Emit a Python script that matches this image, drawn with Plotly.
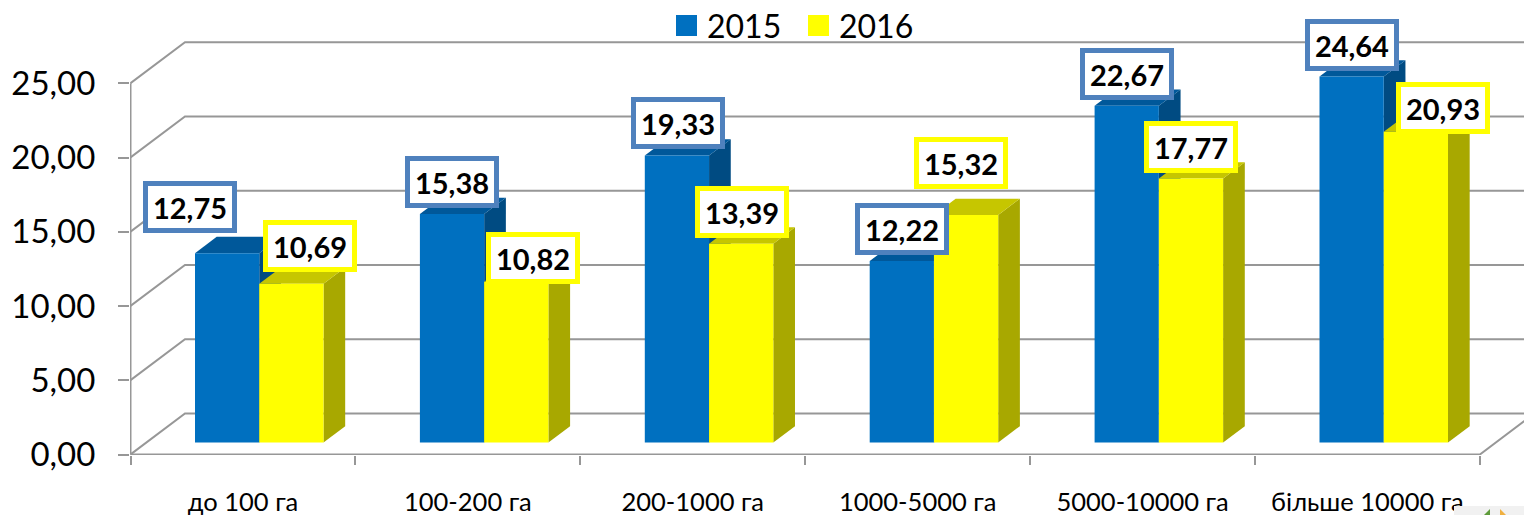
import plotly.graph_objects as go

# ---- data ----
categories = ["до 100 га", "100-200 га", "200-1000 га", "1000-5000 га", "5000-10000 га", "більше 10000 га"]
values_2015 = [12.75, 15.38, 19.33, 12.22, 22.67, 24.64]
values_2016 = [10.69, 10.82, 13.39, 15.32, 17.77, 20.93]
series_names = ["2015", "2016"]
y_ticks = [0, 5, 10, 15, 20, 25]
label_shift_2015 = [(-37, 46), (0, 32), (1, 32), (0, 32), (0, 32), (0, 32)]
label_shift_2016 = [(19, 38), (17, 24), (1, 32), (-5, 52), (0, 32), (27, 24)]

# ---- geometry (pixels of the page -> axis units) ----
W, H = 1524, 515
ML, MB = 130, 60
PX_CAT = 224.9
PX_VAL = 14.85
x0 = -0.5 / PX_CAT
x1 = x0 + (W - ML) / PX_CAT
y0 = -0.5 / PX_VAL
y1 = y0 + (H - MB) / PX_VAL
WALL_DX, WALL_DY = 54.5 / PX_CAT, 41 / PX_VAL
BAR_BASE = 12 / PX_VAL
BAR_W = 64.25 / PX_CAT
BAR_OFF = [64.5 / PX_CAT, (64.5 + 64.25) / PX_CAT]
DEPTH_DX, DEPTH_DY = 21.7 / PX_CAT, 16.3 / PX_VAL

FONT = "Lato, Carlito, Calibri, sans-serif"
GRID = "#979797"
COLORS = ["#0070C0", "#FFFF00"]
TOPS = ["#00589A", "#C6C600"]
SIDES = ["#004B82", "#A8A800"]
BORDERS = ["#4F81BD", "#FFFF00"]

shapes = []


def line(xs, ys):
    path = "M " + " L ".join(f"{a:.4f},{b:.4f}" for a, b in zip(xs, ys))
    shapes.append(dict(type="path", path=path, xref="x", yref="y", layer="below",
                       line=dict(color=GRID, width=2)))


# back wall and left wall grid
for v in y_ticks:
    line([0, WALL_DX, 6 + WALL_DX], [v, v + WALL_DY, v + WALL_DY])
line([0, 0], [0, 25])
line([0, 6, 6 + WALL_DX], [0, 0, WALL_DY])


def face(pts, color):
    path = "M " + " L ".join(f"{a:.4f},{b:.4f}" for a, b in pts) + " Z"
    shapes.append(dict(type="path", path=path, xref="x", yref="y", layer="between",
                       fillcolor=color, line=dict(width=0)))


# depth faces of each bar, drawn between the grid and the front faces
for i in range(len(categories)):
    for s, vals in enumerate([values_2015, values_2016]):
        xl = i + BAR_OFF[s]
        xr = xl + BAR_W
        b = BAR_BASE
        t = BAR_BASE + vals[i]
        face([(xr, b), (xr + DEPTH_DX, b + DEPTH_DY), (xr + DEPTH_DX, t + DEPTH_DY), (xr, t)], SIDES[s])
        face([(xl, t), (xl + DEPTH_DX, t + DEPTH_DY), (xr + DEPTH_DX, t + DEPTH_DY), (xr, t)], TOPS[s])

fig = go.Figure()
xs = list(range(len(categories)))
for s, vals in enumerate([values_2015, values_2016]):
    fig.add_trace(go.Bar(x=xs, y=vals, base=BAR_BASE, width=BAR_W, offset=BAR_OFF[s],
                         name=series_names[s], marker=dict(color=COLORS[s], line=dict(width=0)),
                         showlegend=False))

annotations = []
for s, (vals, shifts) in enumerate([(values_2015, label_shift_2015), (values_2016, label_shift_2016)]):
    for i, v in enumerate(vals):
        annotations.append(dict(
            x=i + BAR_OFF[s] + BAR_W / 2, y=v + BAR_BASE, xref="x", yref="y",
            text=f"{v:.2f}".replace(".", ","), showarrow=False,
            xanchor="center", yanchor="middle", xshift=shifts[i][0], yshift=shifts[i][1],
            font=dict(family=FONT, size=29, color="black", weight="bold"),
            bgcolor="white", bordercolor=BORDERS[s], borderwidth=5, borderpad=0,
            width=84, height=42, align="center", valign="middle"))


# legend drawn to the size of the reference
def px(p):
    return (p - ML) / (W - ML)


def py(p):
    return (H - MB - p) / (H - MB)


for name, color, sx, tx in zip(series_names, COLORS, [676, 808], [705, 837]):
    shapes.append(dict(type="rect", xref="paper", yref="paper", layer="above",
                       x0=px(sx), x1=px(sx + 21), y0=py(36), y1=py(15),
                       fillcolor=color, line=dict(width=0)))
    annotations.append(dict(x=px(tx), y=py(25), xref="paper", yref="paper", text=name,
                            showarrow=False, xanchor="left", yanchor="middle",
                            font=dict(family=FONT, size=32, color="black")))

# the corner of a neighbouring picture that shows at the bottom right
shapes.append(dict(type="rect", xref="paper", yref="paper", layer="above",
                   x0=px(1454), x1=px(1524), y0=py(515), y1=py(506),
                   fillcolor="#F1F1F1", line=dict(width=0)))
shapes.append(dict(type="path", xref="paper", yref="paper", layer="above",
                   path=f"M {px(1484)},{py(515)} L {px(1490)},{py(509)} L {px(1490)},{py(515)} Z",
                   fillcolor="#5E9B3A", line=dict(width=0)))
shapes.append(dict(type="path", xref="paper", yref="paper", layer="above",
                   path=f"M {px(1500)},{py(515)} L {px(1500)},{py(509)} L {px(1506)},{py(515)} Z",
                   fillcolor="#F0B040", line=dict(width=0)))

fig.update_layout(
    width=W, height=H, autosize=False,
    margin=dict(l=ML, r=0, t=0, b=MB, pad=0),
    paper_bgcolor="white", plot_bgcolor="white",
    separators=", ",
    barmode="overlay",
    shapes=shapes, annotations=annotations,
    showlegend=False,
    xaxis=dict(range=[x0, x1], showgrid=False, zeroline=False, showline=False,
               tickmode="array", tickvals=[i + 0.5 for i in xs], ticktext=categories,
               ticks="", ticklabelstandoff=29,
               tickfont=dict(family=FONT, size=25.5, color="black"),
               minor=dict(tickmode="array", tickvals=list(range(7)), ticks="outside",
                          ticklen=9, tickwidth=2, tickcolor=GRID, showgrid=False)),
    yaxis=dict(range=[y0, y1], showgrid=False, zeroline=False, showline=False,
               tickmode="array", tickvals=y_ticks, tickformat=".2f",
               ticks="outside", ticklen=11, tickwidth=2, tickcolor=GRID,
               ticklabelstandoff=16,
               tickfont=dict(family=FONT, size=33, color="black")),
)

fig.write_html("out.html", config=dict(displayModeBar=False),
               post_script="document.body.style.margin='0';document.body.style.overflow='hidden';")
